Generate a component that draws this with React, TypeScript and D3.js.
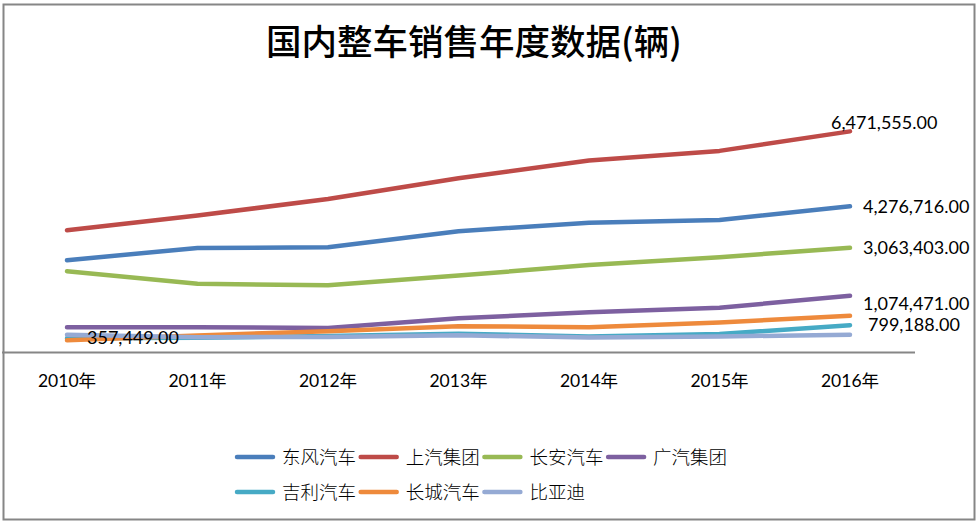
import { useRef, useEffect } from "react";
import * as d3 from "d3";

const years = ["2010年", "2011年", "2012年", "2013年", "2014年", "2015年", "2016年"];

const seriesNames = ["东风汽车", "上汽集团", "长安汽车", "广汽集团", "吉利汽车", "长城汽车", "比亚迪"];
const seriesColors = ["#4A7EBB", "#BE4B48", "#98B954", "#7D60A0", "#46AAC5", "#EE8A3C", "#95AAD4"];

const dongfeng = [2700000, 3060000, 3080000, 3550000, 3800000, 3880000, 4276716];
const saic = [3580000, 4010000, 4490000, 5100000, 5620000, 5900000, 6471555];
const changan = [2380000, 2010000, 1970000, 2250000, 2560000, 2790000, 3063403];
const gac = [740000, 740000, 720000, 1000000, 1180000, 1310000, 1660000];
const geely = [415000, 430000, 480000, 549000, 470000, 540000, 799188];
const greatwall = [357449, 500000, 624000, 770000, 740000, 880000, 1074471];
const byd = [520000, 448000, 456000, 506000, 436000, 470000, 520000];

const seriesValues = [dongfeng, saic, changan, gac, geely, greatwall, byd];

// which points carry a data label: [series index, point index, dx, dy]
const dataLabels: [number, number, number, number][] = [
  [1, 6, -19, -8],
  [0, 6, 13, 1],
  [2, 6, 13, 0],
  [5, 6, 13, -12],
  [4, 6, 18, 0],
  [5, 0, 20, -2],
];

const fmt = d3.format(",.2f");

export default function App() {
  const svgRef = useRef<SVGSVGElement>(null);

  useEffect(() => {
    if (!svgRef.current) return;
    const svg = d3.select(svgRef.current);
    svg.selectAll("*").remove();

    const width = 979;
    const height = 525;

    svg.attr("viewBox", `0 0 ${width} ${height}`);

    svg
      .append("rect")
      .attr("x", 0)
      .attr("y", 0)
      .attr("width", width)
      .attr("height", height)
      .attr("fill", "#ffffff");

    const x = d3.scalePoint<string>().domain(years).range([1.75, 915.25]).padding(0.5);
    const y = d3.scaleLinear().domain([0, 7000000]).range([352.5, 113.3]);

    // Title
    svg
      .append("text")
      .attr("x", 474)
      .attr("y", 55)
      .attr("text-anchor", "middle")
      .attr("fill", "#000")
      .attr("font-family", "'Noto Sans CJK SC', sans-serif")
      .attr("font-size", "35.5px")
      .attr("font-weight", 500)
      .text("国内整车销售年度数据(辆)");

    // Category axis
    svg
      .append("line")
      .attr("x1", 2)
      .attr("x2", 915)
      .attr("y1", y(0))
      .attr("y2", y(0))
      .attr("stroke", "#868686")
      .attr("stroke-width", 2);

    svg
      .append("g")
      .selectAll("text")
      .data(years)
      .join("text")
      .attr("x", (d) => x(d) ?? 0)
      .attr("y", y(0) + 34)
      .attr("text-anchor", "middle")
      .attr("fill", "#000")
      .attr("font-family", "Lato, 'Noto Sans CJK SC', sans-serif")
      .attr("font-size", "17.5px")
      .text((d) => d);

    // Lines
    const line = d3
      .line<number>()
      .x((_, i) => x(years[i]) ?? 0)
      .y((d) => y(d));

    svg
      .append("g")
      .selectAll("path")
      .data(seriesValues)
      .join("path")
      .attr("d", (d) => line(d))
      .attr("fill", "none")
      .attr("stroke", (_, i) => seriesColors[i])
      .attr("stroke-width", 4.5)
      .attr("stroke-linecap", "round")
      .attr("stroke-linejoin", "round");

    // Data labels
    svg
      .append("g")
      .selectAll("text")
      .data(dataLabels)
      .join("text")
      .attr("x", ([, p, dx]) => (x(years[p]) ?? 0) + dx)
      .attr("y", ([s, p, , dy]) => y(seriesValues[s][p]) + dy + 6)
      .attr("fill", "#000")
      .attr("font-family", "Lato, sans-serif")
      .attr("font-size", "18px")
      .text(([s, p]) => fmt(seriesValues[s][p]));

    // Legend
    const legendX = 237;
    const legendStep = 123.7;
    const legendRows = [457, 492];
    const legend = svg
      .append("g")
      .selectAll("g")
      .data(seriesNames)
      .join("g")
      .attr(
        "transform",
        (_, i) => `translate(${legendX + (i % 4) * legendStep},${legendRows[Math.floor(i / 4)]})`
      );

    legend
      .append("line")
      .attr("x1", 0)
      .attr("x2", 36)
      .attr("stroke", (_, i) => seriesColors[i])
      .attr("stroke-width", 4.5)
      .attr("stroke-linecap", "round");

    legend
      .append("text")
      .attr("x", 45)
      .attr("y", 6.5)
      .attr("fill", "#000")
      .attr("font-family", "'Noto Sans CJK SC', sans-serif")
      .attr("font-size", "18.5px")
      .attr("font-weight", 300)
      .text((d) => d);

    // Chart border
    svg
      .append("rect")
      .attr("x", 3.5)
      .attr("y", 4.5)
      .attr("width", 971)
      .attr("height", 515)
      .attr("fill", "none")
      .attr("stroke", "#868686")
      .attr("stroke-width", 2);
  }, []);

  return (
    <div style={{ position: "absolute", left: 0, top: 0, width: 979, height: 525 }}>
      <svg ref={svgRef} width={979} height={525} style={{ display: "block" }} />
    </div>
  );
}
